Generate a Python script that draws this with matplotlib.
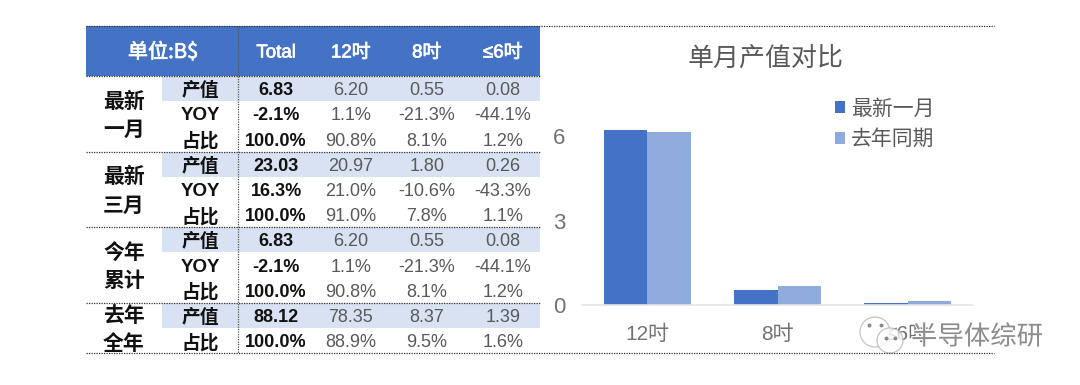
import matplotlib
matplotlib.use("Agg")
import matplotlib.pyplot as plt
import matplotlib.patheffects as pe
from matplotlib.patches import Rectangle, Ellipse

FONT = ['Liberation Sans', 'Noto Sans CJK SC', 'DejaVu Sans']
CJK = ['Noto Sans CJK SC', 'Liberation Sans', 'DejaVu Sans']
plt.rcParams['font.family'] = FONT

# table content
header_unit = "单位:B$"
headers = ["Total", "12吋", "8吋", "≤6吋"]
groups = [("最新", "一月"), ("最新", "三月"), ("今年", "累计"), ("去年", "全年")]
row_labels = ["产值", "YOY", "占比", "产值", "YOY", "占比", "产值", "YOY", "占比", "产值", "占比"]
total_col = ["6.83", "-2.1%", "100.0%", "23.03", "16.3%", "100.0%", "6.83", "-2.1%", "100.0%", "88.12", "100.0%"]
col_12 = ["6.20", "1.1%", "90.8%", "20.97", "21.0%", "91.0%", "6.20", "1.1%", "90.8%", "78.35", "88.9%"]
col_8 = ["0.55", "-21.3%", "8.1%", "1.80", "-10.6%", "7.8%", "0.55", "-21.3%", "8.1%", "8.37", "9.5%"]
col_6 = ["0.08", "-44.1%", "1.2%", "0.26", "-43.3%", "1.1%", "0.08", "-44.1%", "1.2%", "1.39", "1.6%"]

# chart content
chart_title = "单月产值对比"
categories = ["12吋", "8吋", "≤6吋"]
latest_month = [6.20, 0.55, 0.08]
last_year_month = [6.13, 0.69, 0.14]
series_names = ["最新一月", "去年同期"]
yticks = [0, 3, 6]
watermark = "半导体综研"

W, H = 1080, 385
fig = plt.figure(figsize=(W / 100, H / 100), dpi=100, facecolor="white")

BLUE, LIGHT, BAND = "#4472C4", "#8FAADC", "#D9E2F3"
GREY = "#595959"
TICK_GREY = "#737373"


def px_axes(l, t, r, b, **kw):
    return fig.add_axes([l / W, 1 - b / H, (r - l) / W, (b - t) / H], **kw)


# ---------- bar chart
ax = px_axes(582, 100, 973, 305.3)
ax.set_zorder(1)
x = list(range(len(categories)))
bw = 1 / 3
bars1 = ax.bar([i - bw / 2 for i in x], latest_month, bw, color=BLUE, label=series_names[0])
bars2 = ax.bar([i + bw / 2 for i in x], last_year_month, bw, color=LIGHT, label=series_names[1])
ax.set_xlim(-0.5, 2.5)
ax.set_ylim(0, 205.3 / 28.2)
ax.set_yticks(yticks)
ax.set_xticks(x, categories)
for s in ("top", "right", "left"):
    ax.spines[s].set_visible(False)
ax.spines["bottom"].set_color("#E4E4E4")
ax.spines["bottom"].set_linewidth(1.2)
ax.tick_params(axis="both", length=0, labelcolor=TICK_GREY)
ax.tick_params(axis="y", labelsize=16, pad=12)
ax.tick_params(axis="x", labelsize=15, pad=14)
ax.patch.set_alpha(0)
leg = ax.legend(
    loc="upper left", bbox_to_anchor=(834.7 / W, 1 - 97.5 / H), bbox_transform=fig.transFigure,
    frameon=False, handlelength=0.5, handleheight=0.5, handletextpad=0.29,
    labelspacing=0.42, borderpad=0, borderaxespad=0,
    prop={"family": CJK, "size": 15},
)
for t in leg.get_texts():
    t.set_color(GREY)

# ---------- overlay: table, rules, title, watermark
ov = fig.add_axes([0, 0, 1, 1], zorder=5)
ov.set_xlim(0, W)
ov.set_ylim(H, 0)
ov.axis("off")
ov.patch.set_alpha(0)

TL, TR, VX, BL = 86, 539.5, 237.7, 162
TOP, HB, BOT = 25.5, 76, 353.2
RH = (BOT - HB) / len(row_labels)
col_x = [276, 350.7, 426.7, 502.7]
DY = 2  # text sits slightly below the row centre

ov.add_patch(Rectangle((TL, TOP), TR - TL, HB - TOP, fc=BLUE, ec="none"))
for i, lab in enumerate(row_labels):
    yc = HB + RH * (i + 0.5) + DY
    if lab == "产值":
        ov.add_patch(Rectangle((BL, HB + RH * i), TR - BL, RH, fc=BAND, ec="none"))
    ov.text(200, yc, lab, ha="center", va="center", fontsize=13.5, fontweight="bold",
            color="#111111", family=CJK if lab != "YOY" else FONT)
    ov.text(col_x[0], yc, total_col[i], ha="center", va="center", fontsize=13,
            fontweight="bold", color="#111111")
    for cx, col in zip(col_x[1:], (col_12, col_8, col_6)):
        ov.text(cx, yc, col[i], ha="center", va="center", fontsize=13, color=GREY)

thick = [pe.withStroke(linewidth=0.5, foreground="white")]
ov.text(163, 52.5, header_unit, ha="center", va="center", fontsize=14.5, color="white",
        family=CJK, path_effects=thick)
for cx, h in zip(col_x, headers):
    ov.text(cx, 53, h, ha="center", va="center", fontsize=13.5, color="white", path_effects=thick)

group_rows = [(0, 3), (3, 6), (6, 9), (9, 11)]
for (a, b), (l1, l2) in zip(group_rows, groups):
    mid = HB + RH * (a + b) / 2 + 1.5
    ov.text(124, mid - 14.3, l1, ha="center", va="center", fontsize=15, fontweight="bold",
            color="#111111", family=CJK)
    ov.text(124, mid + 14.3, l2, ha="center", va="center", fontsize=15, fontweight="bold",
            color="#111111", family=CJK)

dots = dict(color="#333333", lw=0.9, linestyle=(0, (1, 1)))
for yy in (TOP, BOT):
    ov.plot([TL, 994], [yy, yy], **dots)
ov.plot([TL, 541], [HB, HB], **dots)
for _, b in group_rows[:-1]:
    ov.plot([TL, 541], [HB + RH * b] * 2, **dots)
ov.plot([VX, VX], [TOP, BOT], color="#555555", lw=0.9, linestyle=(0, (1, 1)))

ov.text(765.5, 58, chart_title, ha="center", va="center", fontsize=18.7, color=GREY, family=CJK)

# watermark
for cx, cy, rx, ry in ((875, 332, 15, 15), (890, 340.5, 13, 12.5)):
    ov.add_patch(Ellipse((cx, cy), 2 * rx, 2 * ry, fc="white", ec="#b0b0b0", lw=0.9, alpha=0.75))
ov.plot([869, 881, 886, 895], [325, 325, 338, 338], ls="none", marker="o", ms=1.8, color="#888888")
ov.text(977, 337, watermark, ha="center", va="center", fontsize=19, color="#8c8c8c", family=CJK,
        path_effects=[pe.withStroke(linewidth=1.4, foreground="white")])

fig.savefig("out.png", dpi=100)
